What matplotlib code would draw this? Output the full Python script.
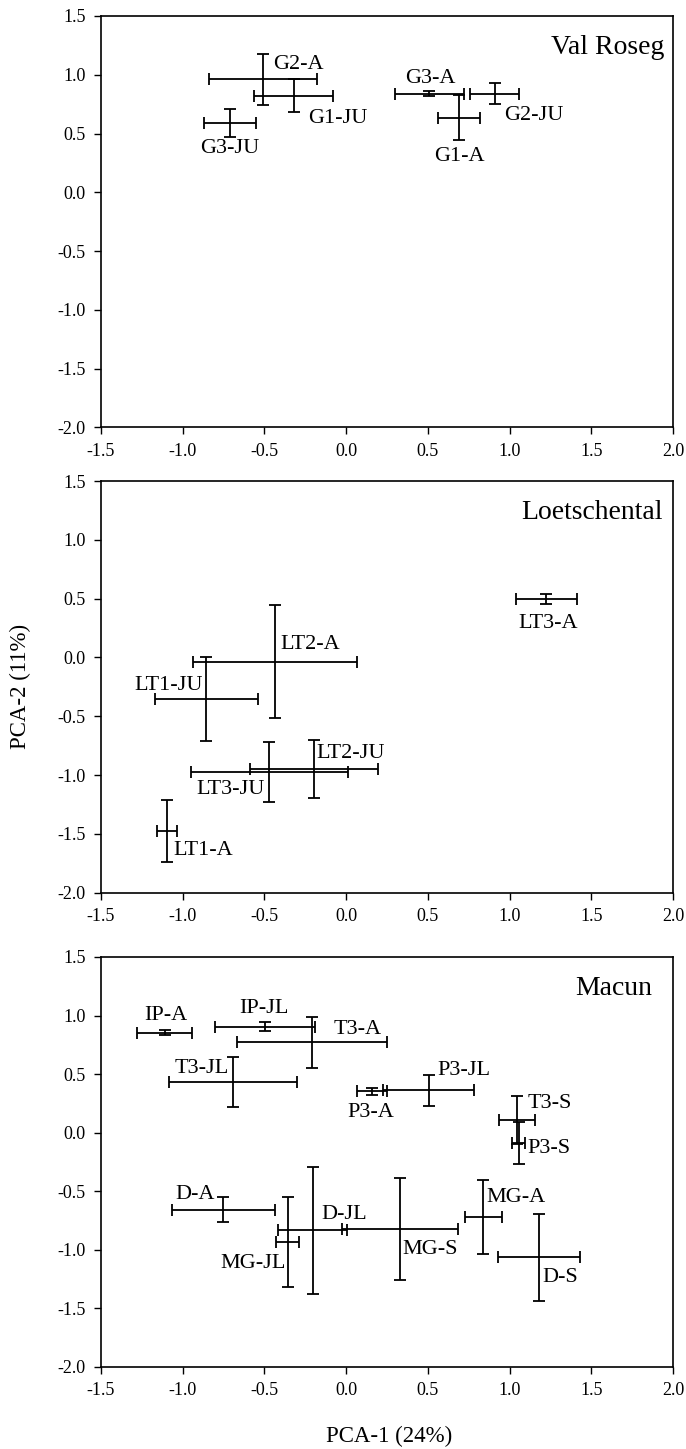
import matplotlib
matplotlib.use("Agg")
import matplotlib.pyplot as plt

plt.rcParams['font.family'] = ['Liberation Serif', 'DejaVu Serif']
plt.rcParams['axes.unicode_minus'] = False

# Val Roseg
vr_labels = ["G2-A", "G1-JU", "G3-JU", "G3-A", "G1-A", "G2-JU"]
vr_x = [-0.51, -0.32, -0.71, 0.51, 0.69, 0.91]
vr_y = [0.96, 0.82, 0.59, 0.84, 0.635, 0.84]
vr_xerr = [0.33, 0.24, 0.16, 0.21, 0.13, 0.15]
vr_yerr = [0.215, 0.14, 0.12, 0.02, 0.19, 0.09]

# Loetschental
lt_labels = ["LT3-A", "LT2-A", "LT1-JU", "LT3-JU", "LT2-JU", "LT1-A"]
lt_x = [1.225, -0.435, -0.855, -0.47, -0.195, -1.095]
lt_y = [0.497, -0.037, -0.355, -0.977, -0.949, -1.477]
lt_xerr = [0.186, 0.50, 0.316, 0.479, 0.39, 0.063]
lt_yerr = [0.04, 0.48, 0.358, 0.255, 0.249, 0.261]

# Macun
mc_labels = ["IP-A", "IP-JL", "T3-A", "T3-JL", "P3-A", "P3-JL", "T3-S", "P3-S",
             "D-A", "MG-JL", "D-JL", "MG-S", "MG-A", "D-S"]
mc_x = [-1.11, -0.496, -0.207, -0.691, 0.159, 0.505, 1.043, 1.056,
        -0.75, -0.358, -0.204, 0.331, 0.839, 1.18]
mc_y = [0.852, 0.906, 0.77, 0.432, 0.352, 0.361, 0.111, -0.088,
        -0.656, -0.935, -0.835, -0.824, -0.719, -1.065]
mc_xerr = [0.167, 0.305, 0.46, 0.394, 0.09, 0.276, 0.11, 0.038,
           0.316, 0.073, 0.211, 0.356, 0.113, 0.253]
mc_yerr = [0.02, 0.04, 0.216, 0.212, 0.03, 0.134, 0.204, 0.176,
           0.106, 0.383, 0.545, 0.4375, 0.318, 0.368]

x_ticks = [-1.5, -1.0, -0.5, 0.0, 0.5, 1.0, 1.5, 2.0]
y_ticks = [-2.0, -1.5, -1.0, -0.5, 0.0, 0.5, 1.0, 1.5]

# label placement: (dx, dy, ha) relative to the cross centre
label_pos = {
    "G2-A": (0.062, 0.13, "left"), "G1-JU": (0.086, -0.193, "left"),
    "G3-JU": (0.0, -0.221, "center"), "G3-A": (0.008, 0.131, "center"),
    "G1-A": (0.002, -0.329, "center"), "G2-JU": (0.056, -0.185, "left"),
    "LT3-A": (0.014, -0.207, "center"), "LT2-A": (0.033, 0.151, "left"),
    "LT1-JU": (-0.019, 0.117, "right"), "LT3-JU": (-0.027, -0.148, "right"),
    "LT2-JU": (0.015, 0.129, "left"), "LT1-A": (0.041, -0.163, "left"),
    "IP-A": (0.01, 0.145, "center"), "IP-JL": (-0.004, 0.156, "center"),
    "T3-A": (0.132, 0.108, "left"), "T3-JL": (-0.029, 0.119, "right"),
    "P3-A": (-0.006, -0.184, "center"), "P3-JL": (0.051, 0.167, "left"),
    "T3-S": (0.065, 0.136, "left"), "P3-S": (0.052, -0.043, "left"),
    "D-A": (-0.051, 0.127, "right"), "MG-JL": (-0.013, -0.179, "right"),
    "D-JL": (0.054, 0.135, "left"), "MG-S": (0.016, -0.176, "left"),
    "MG-A": (0.019, 0.165, "left"), "D-S": (0.02, -0.168, "left"),
}

panels = [
    ("Val Roseg", vr_labels, vr_x, vr_y, vr_xerr, vr_yerr, [0.147, 0.705, 0.834, 0.284], 1.946),
    ("Loetschental", lt_labels, lt_x, lt_y, lt_xerr, lt_yerr, [0.147, 0.384, 0.834, 0.284], 1.94),
    ("Macun", mc_labels, mc_x, mc_y, mc_xerr, mc_yerr, [0.147, 0.0566, 0.834, 0.283], 1.87),
]

fig = plt.figure(figsize=(6.86, 14.49), dpi=100)

for title, labels, xs, ys, xe, ye, rect, tx in panels:
    ax = fig.add_axes(rect)
    ax.errorbar(xs, ys, xerr=xe, yerr=ye, fmt='none', ecolor='black',
                elinewidth=1.3, capsize=4, capthick=1.3)
    for name, px, py in zip(labels, xs, ys):
        dx, dy, ha = label_pos[name]
        ax.text(px + dx, py + dy, name, ha=ha, va='center', fontsize=16)
    ax.text(tx, 1.23, title, ha='right', va='center', fontsize=20)
    ax.set_xlim(-1.5, 2.0)
    ax.set_ylim(-2.0, 1.5)
    ax.set_xticks(x_ticks)
    ax.set_yticks(y_ticks)
    ax.set_xticklabels(["%.1f" % v for v in x_ticks])
    ax.set_yticklabels(["%.1f" % v for v in y_ticks])
    ax.tick_params(direction='out', length=5, width=1, labelsize=13, pad=6)
    for sp in ax.spines.values():
        sp.set_linewidth(1.2)

fig.text(0.03, 1 - 686 / 1449, "PCA-2 (11%)", rotation=90, ha='center', va='center', fontsize=16.5)
fig.text(389 / 686, 1 - 1436 / 1449, "PCA-1 (24%)", ha='center', va='center', fontsize=16.5)

fig.savefig("out.png", dpi=100)
